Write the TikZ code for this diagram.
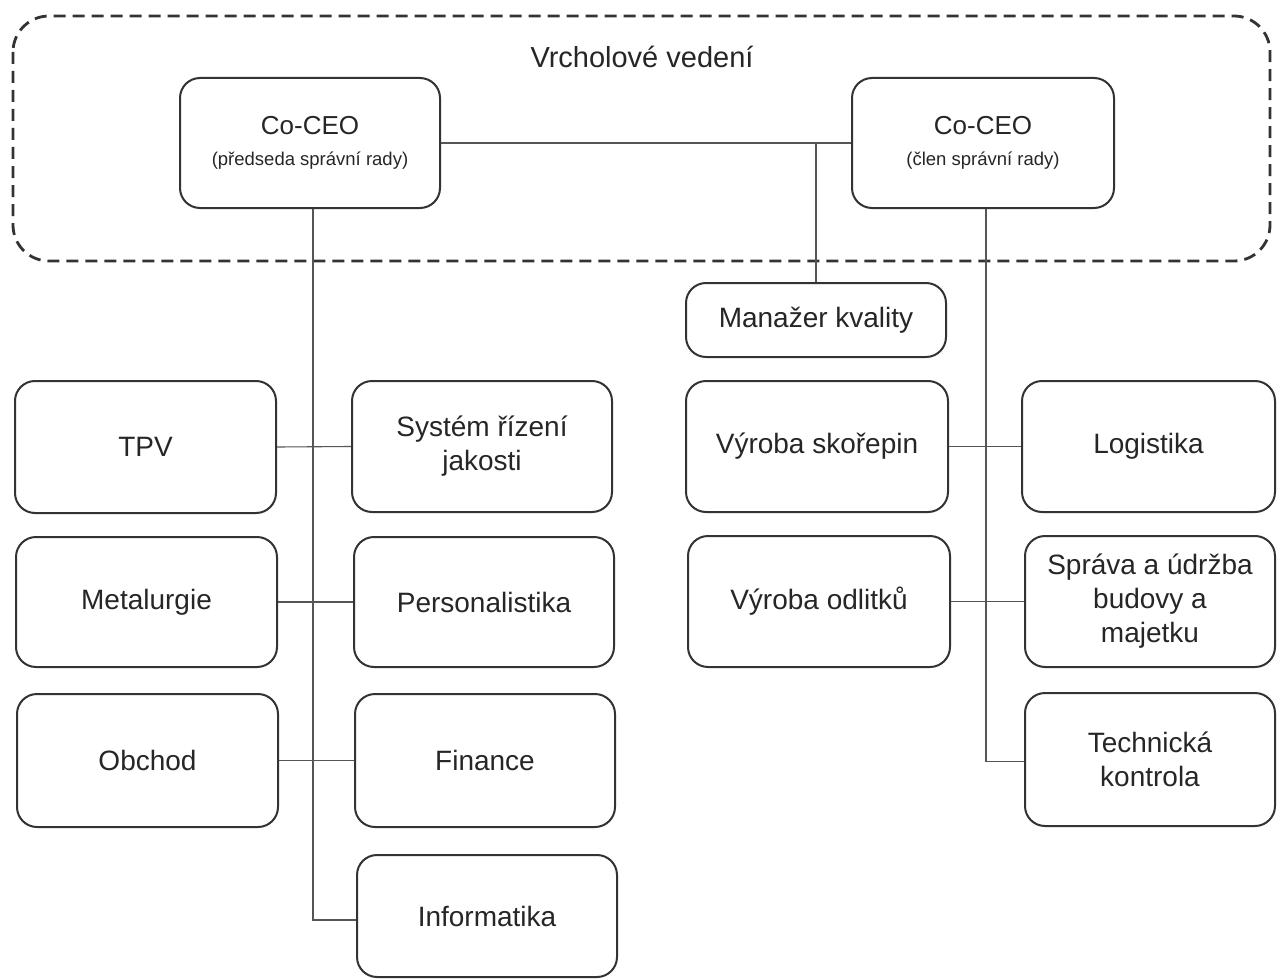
\documentclass[tikz,border=0pt]{standalone}
\usepackage{fontspec}
\setmainfont{Liberation Sans}
\definecolor{ink}{HTML}{262626}
\definecolor{edge}{HTML}{333333}
\definecolor{wire}{HTML}{555555}
\tikzset{
  box/.style={draw=edge, line width=2pt, rounded corners=20pt, align=center, text=ink,
    inner sep=0pt, font=\fontsize{28}{34}\selectfont},
  wirestyle/.style={draw=wire, line width=1.1pt},
  group/.style={draw=edge, line width=2.8pt, dash pattern=on 12pt off 7pt, rounded corners=36pt}
}
\newcommand{\bx}[6]{\node[box, minimum width={#4-#2}, minimum height={#5-#3}] (#1) at ({(#2+#4)/2},{(#3+#5)/2}) {#6};}
\begin{document}
\begin{tikzpicture}[x=1pt,y=-1pt]
\useasboundingbox (0,0) rectangle (1277,979);
\fill[white] (0,0) rectangle (1277,979);
% group
\draw[group] (13,16) rectangle (1270,261);
\node[text=ink, font=\fontsize{29}{34}\selectfont] (title) at (642,57) {Vrcholové vedení};
% top
\bx{ceoL}{180}{78}{440}{208}{\fontsize{26}{30}\selectfont Co-CEO\\[-3pt]\fontsize{18.5}{22}\selectfont (předseda správní rady)}
\bx{ceoR}{852}{78}{1114}{208}{\fontsize{26}{30}\selectfont Co-CEO\\[-3pt]\fontsize{18.5}{22}\selectfont (člen správní rady)}
\bx{mgr}{686}{283}{946}{357}{Manažer kvality}
% left columns
\bx{tpv}{15}{381}{276}{513}{TPV}
\bx{met}{16}{537}{277}{667}{Metalurgie}
\bx{obch}{17}{694}{278}{827}{Obchod}
\bx{sys}{352}{381}{612}{512}{Systém řízení\\jakosti}
\bx{pers}{354}{537}{614}{667}{Personalistika}
\bx{fin}{355}{694}{615}{827}{Finance}
\bx{info}{357}{855}{617}{977}{Informatika}
% right columns
\bx{vs}{686}{381}{948}{512}{Výroba skořepin}
\bx{vo}{688}{536}{950}{667}{Výroba odlitků}
\bx{log}{1022}{381}{1275}{512}{Logistika}
\bx{spr}{1025}{536}{1275}{667}{Správa a údržba\\budovy a\\majetku}
\bx{tech}{1025}{693}{1275}{826}{Technická\\kontrola}
% connectors
\draw[wirestyle] (ceoL.east) -- (ceoR.west);
\draw[wirestyle] (mgr.north) -- (mgr.north |- ceoL.east);
\draw[wirestyle] ([xshift=3pt]ceoL.south) |- ([yshift=-4pt]info.west);
\draw[wirestyle] (tpv.east) -- (sys.west);
\draw[wirestyle] (met.east) -- (pers.west);
\draw[wirestyle] (obch.east) -- (fin.west);
\draw[wirestyle] ([xshift=3pt]ceoR.south) |- ([yshift=-2pt]tech.west);
\draw[wirestyle] (vs.east) -- (log.west);
\draw[wirestyle] (vo.east) -- (spr.west);
\end{tikzpicture}
\end{document}
